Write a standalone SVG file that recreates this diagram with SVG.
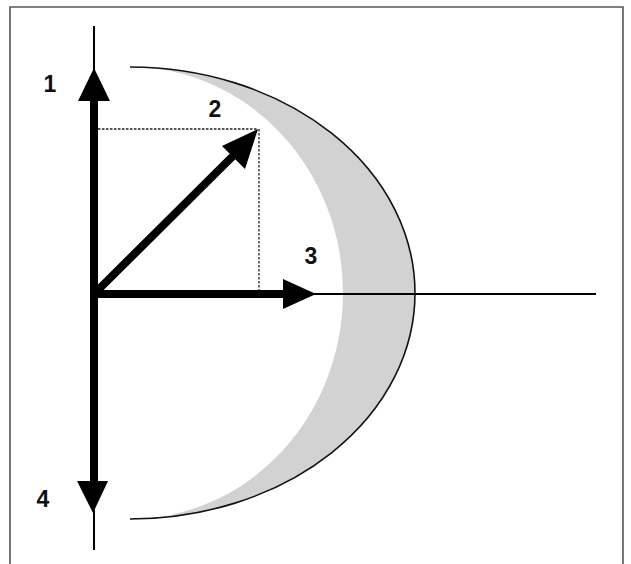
<svg xmlns="http://www.w3.org/2000/svg" width="631" height="564" viewBox="0 0 631 564">
<style>
.lbl{font-family:"Liberation Sans",Arial,sans-serif;font-size:23px;font-weight:bold;fill:#111;text-anchor:middle}
.thick{stroke:#000;stroke-width:8;fill:none}
.thin{stroke:#000;stroke-width:2;fill:none}
.dash{stroke:#222;stroke-width:1.3;stroke-dasharray:2.5 1.5;fill:none}
.head{fill:#000}
</style>
<rect x="0" y="0" width="631" height="564" fill="#fff"/>
<path d="M10 570 V7 H623 V570" fill="none" stroke="#555" stroke-width="1.6"/>
<g id="moon">
<path d="M130 67 A285 226 0 0 1 130 519 A213 226 0 0 0 130 67 Z" fill="#d2d2d2"/>
<path d="M130 67 A285 226 0 0 1 130 519" fill="none" stroke="#111" stroke-width="1.6"/>
</g>
<g id="guides">
<path class="dash" d="M94 129 H257 M259 129 V294"/>
</g>
<g id="connectors">
<path class="thin" d="M94 26 V70"/>
<path class="thick" d="M94 98 V484"/>
<path class="thin" d="M94 510 V550"/>
<path class="thick" d="M94 294 H285"/>
<path class="thin" d="M310 294 H596"/>
<path class="thick" d="M94 294 L236 153"/>
</g>
<g id="arrow1"><polygon class="head" points="94,68 110,101 78,101"/></g>
<g id="arrow4"><polygon class="head" points="93,513 108,481 77,481"/></g>
<g id="arrow3"><polygon class="head" points="316,294 283,279 283,309"/></g>
<g id="arrow2"><polygon class="head" points="258,129 222,146 245,169"/></g>
<g id="label1"><text class="lbl" x="50" y="92">1</text></g>
<g id="label2"><text class="lbl" x="215" y="117">2</text></g>
<g id="label3"><text class="lbl" x="311" y="264">3</text></g>
<g id="label4"><text class="lbl" x="43" y="507">4</text></g>
</svg>
